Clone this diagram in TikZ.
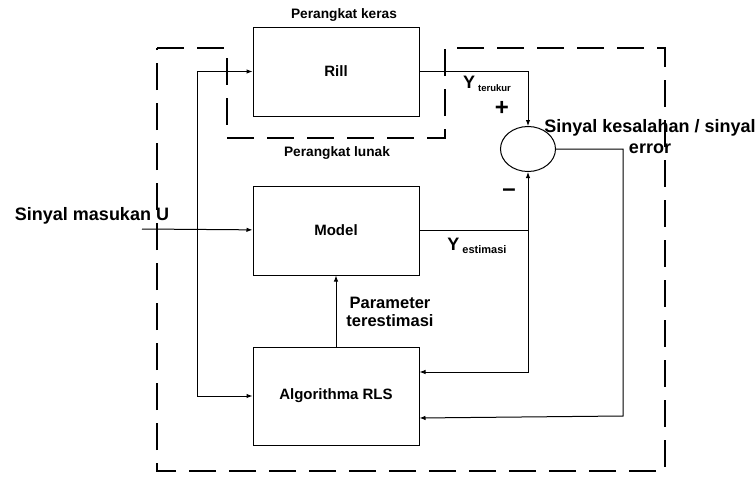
\documentclass[tikz,border=0pt]{standalone}
\usepackage{fontspec}
\setmainfont{Liberation Sans}
\usetikzlibrary{arrows.meta, positioning, shapes.geometric}

\begin{document}
\begin{tikzpicture}[
    x=1pt, y=-1pt,
    node distance=69pt and 12mm,
    >={Latex[length=6pt,width=4.5pt]},
    font=\bfseries,
    blok/.style={rectangle, draw, line width=1pt, minimum width=166pt, minimum height=89pt, inner sep=0pt, font=\fontsize{15}{17}\selectfont\bfseries},
    sum/.style={ellipse, draw, line width=1pt, minimum width=55pt, minimum height=45pt, inner sep=0pt},
    kecil/.style={font=\fontsize{13.7}{15}\selectfont\bfseries},
    besar/.style={font=\fontsize{18}{21}\selectfont\bfseries, align=center},
    tanda/.style={font=\fontsize{24}{24}\selectfont\bfseries, inner sep=0pt},
    line/.style={->, line width=1pt},
    batas/.style={line width=2pt, dash pattern=on 27pt off 13pt}
]
\useasboundingbox (0,0) rectangle (756,479);
\node[blok] (rill) at (336,71.5) {Rill};
\node[blok, below=of rill] (model) {Model};
\node[blok, below=71pt of model, minimum height=98pt] (rls) {Algorithma RLS};
\node[sum] (err) at (528,149) {};
\node[kecil] (keras) at (344,15) {Perangkat keras};
\node[kecil] (lunak) at (337,153) {Perangkat lunak};
\node[besar] (masukan) at (92,216) {Sinyal masukan U};
\node[besar] (galat) at (650,137) {Sinyal kesalahan / sinyal\\error};
\node[besar, font=\fontsize{16.5}{17.5}\selectfont\bfseries] (param) at (390,312) {Parameter\\terestimasi};
\node[besar] (yukur) at (487,84) {Y\,\raisebox{-3pt}{\fontsize{9.5}{10}\selectfont terukur}};
\node[besar] (yest) at (477,246) {Y\,\raisebox{-3pt}{\fontsize{11}{12}\selectfont estimasi}};
\node[tanda] (plus) at (502,108) {+};
\node[tanda] (minus) at (509,193) {–};
\draw[batas] (157,48) -- (227,48) -- (227,138) -- (445,138) -- (445,48) -- (665,48) -- (665,471) -- (157,471) -- cycle;
\coordinate (u) at (142,229);
\coordinate (cabang) at (197,229);
\coordinate (belok) at (623,416);
\coordinate (yjunc) at (model.east -| err.south);
\draw[line] (u) -- (model);
\draw[line] (cabang) |- (rill);
\draw[line] (cabang) |- (rls);
\draw[line] (rill) -| (err);
\draw[line] (model) -| (err);
\draw[line] (yjunc) |- ([yshift=24pt]rls.east);
\draw[line] (err) -| (belok) -- ([yshift=-22pt]rls.east);
\draw[line] (rls) -- (model);
\end{tikzpicture}
\end{document}
